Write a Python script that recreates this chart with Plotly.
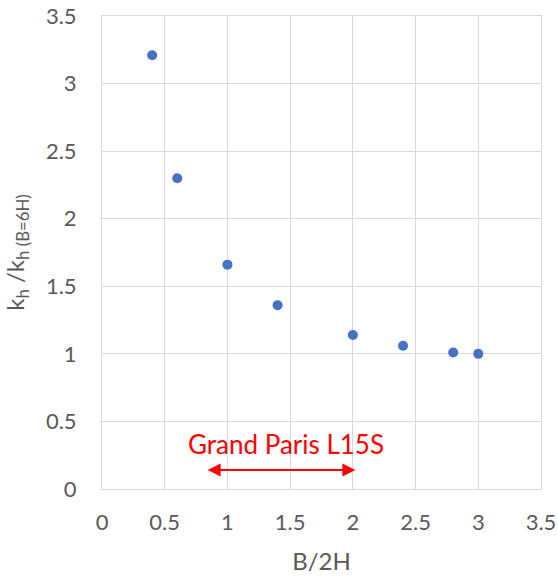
import plotly.graph_objects as go

x_vals = [0.4, 0.6, 1.0, 1.4, 2.0, 2.4, 2.8, 3.0]
y_vals = [3.21, 2.30, 1.66, 1.36, 1.14, 1.06, 1.01, 1.00]
tick_vals = [0, 0.5, 1, 1.5, 2, 2.5, 3, 3.5]
tick_text = ["0", "0.5", "1", "1.5", "2", "2.5", "3", "3.5"]
arrow_x = [0.83, 2.02]
arrow_y = 0.14
label_text = "Grand Paris L15S"
label_pos = (1.47, 0.33)

fig = go.Figure()
fig.add_trace(go.Scatter(x=x_vals, y=y_vals, mode="markers",
                         marker=dict(color="#4472C4", size=10), showlegend=False))

fig.add_annotation(x=arrow_x[1], y=arrow_y, ax=arrow_x[0], ay=arrow_y,
                   xref="x", yref="y", axref="x", ayref="y",
                   text="", showarrow=True, arrowhead=2, startarrowhead=2,
                   arrowside="end+start", arrowcolor="red", arrowwidth=2,
                   arrowsize=1.3, startarrowsize=1.3)
fig.add_annotation(x=label_pos[0], y=label_pos[1], xref="x", yref="y",
                   text=label_text, showarrow=False,
                   font=dict(color="red", size=26, family="Lato"))

axis_common = dict(range=[0, 3.5], tickvals=tick_vals, ticktext=tick_text,
                   showgrid=True, gridcolor="#d9d9d9", gridwidth=1,
                   showline=True, mirror=True, linecolor="#d9d9d9", linewidth=1,
                   zeroline=False, ticks="", automargin=False,
                   ticklabeloverflow="allow",
                   tickfont=dict(size=22, color="#595959", family="Lato"))

fig.update_layout(
    width=558, height=579,
    margin=dict(l=102, r=17, t=16, b=90),
    plot_bgcolor="white", paper_bgcolor="white",
    xaxis=dict(**axis_common, ticklabelstandoff=14,
               title=dict(text="B/2H", font=dict(size=24, color="#595959", family="Lato"), standoff=18)),
    yaxis=dict(**axis_common, ticklabelstandoff=20,
               title=dict(text="k<sub>h</sub> /k<sub>h (B=6H)</sub>",
                          font=dict(size=24, color="#595959", family="Lato"), standoff=22)),
)
fig.write_html("out.html", post_script="document.body.style.margin='0';",
               config={"displayModeBar": False})
